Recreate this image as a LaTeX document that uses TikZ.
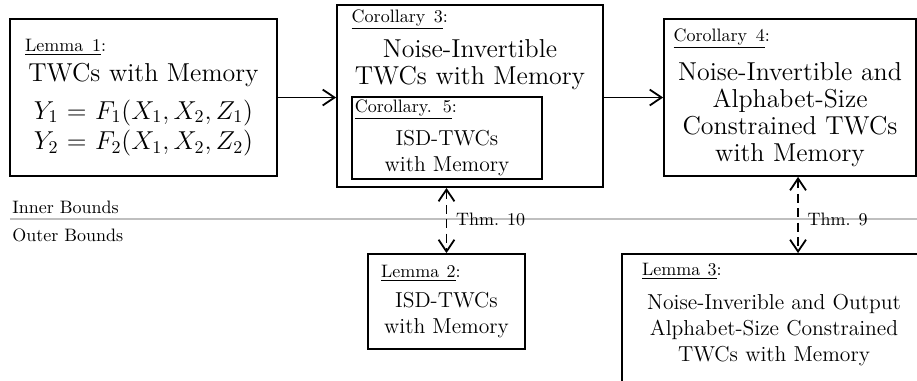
\documentclass[tikz,border=0pt]{standalone}
\usetikzlibrary{calc,arrows.meta}
\newcommand{\resulttag}[1]{{\fontsize{10}{12}\selectfont\underline{#1}:}\hfill\null}
\begin{document}
\begin{tikzpicture}[>={Straight Barb[length=2.3mm,width=3.1mm]},
  box/.style={draw, line width=1pt, align=center, inner sep=0pt},
  big/.style={font=\fontsize{14.4}{15}\selectfont},
  mid/.style={font=\fontsize{12}{14.5}\selectfont},
  link/.style={->, line width=1pt},
  bound/.style={<->, line width=1pt, dash pattern=on 5pt off 3pt},
  side/.style={anchor=base west, inner sep=0pt}]

\useasboundingbox (0,0) rectangle (17.905,-7.439);
\clip (0,0) rectangle (17.905,-7.439);

\node[box, big, minimum width=5.213cm, minimum height=3.066cm, text width=4.62cm] (lemA) at (2.802,-1.904)
  {\resulttag{Lemma 1}\\[1.7pt] TWCs with Memory\\[6pt] $Y_1 = F_1(X_1, X_2, Z_1)$\\[2pt] $Y_2 = F_2(X_1, X_2, Z_2)$};

\node[box, minimum width=5.194cm, minimum height=3.554cm] (corC) at (9.177,-1.875) {};
\node[big, align=center, text width=4.62cm, inner sep=0pt, anchor=north] (corCtext) at ([yshift=-0.1cm]corC.north)
  {\resulttag{Corollary 3}\\[4.4pt] Noise-Invertible\\ TWCs with Memory};
\node[box, mid, minimum width=3.71cm, minimum height=1.601cm, text width=3.6cm] (corE) at (8.728,-2.695)
  {\resulttag{Corollary. 5}\\[4pt] ISD-TWCs\\ with Memory};

\node[box, big, minimum width=4.921cm, minimum height=3.066cm, text width=4.55cm] (corD) at (15.426,-1.904)
  {\resulttag{Corollary 4}\\[6.7pt] Noise-Invertible and\\ Alphabet-Size\\ Constrained TWCs\\ with Memory};

\node[box, mid, minimum width=3.066cm, minimum height=1.855cm, text width=2.55cm] (lemB) at (8.718,-5.887)
  {\resulttag{Lemma 2}\\[2pt] ISD-TWCs\\ with Memory};

\node[box, minimum width=5.936cm, minimum height=2.695cm] (lemC) at (15.113,-6.307) {};
\node[mid, align=center, text width=5.15cm, inner sep=0pt, anchor=north] (lemCtext) at ([yshift=-0.19cm]lemC.north)
  {\resulttag{Lemma 3}\\[4.4pt] Noise-Inverible and Output\\ Alphabet-Size Constrained\\ TWCs with Memory};

\draw[link] (lemA.east) -- (lemA.east -| corC.west);
\draw[link] (corD.west -| corC.east) -- (corD.west);

\coordinate (sepL) at (0.195,-4.276);
\coordinate (sepR) at (17.905,-4.276);
\draw[black!25, line width=1pt] (sepL) -- (sepR);
\node[side] (inner) at (0.234,-4.159) {Inner Bounds};
\node[side] (outer) at (0.234,-4.725) {Outer Bounds};

\coordinate (T9) at (15.582,-4.276);
\draw[bound] (lemB.north |- corC.south) -- (lemB.north) node[pos=0.48, right=1.5pt] (thmB) {Thm. 10};
\draw[bound] (corD.south -| T9) -- (lemC.north -| T9) node[pos=0.56, right=1.5pt] (thmA) {Thm. 9};

\end{tikzpicture}
\end{document}
